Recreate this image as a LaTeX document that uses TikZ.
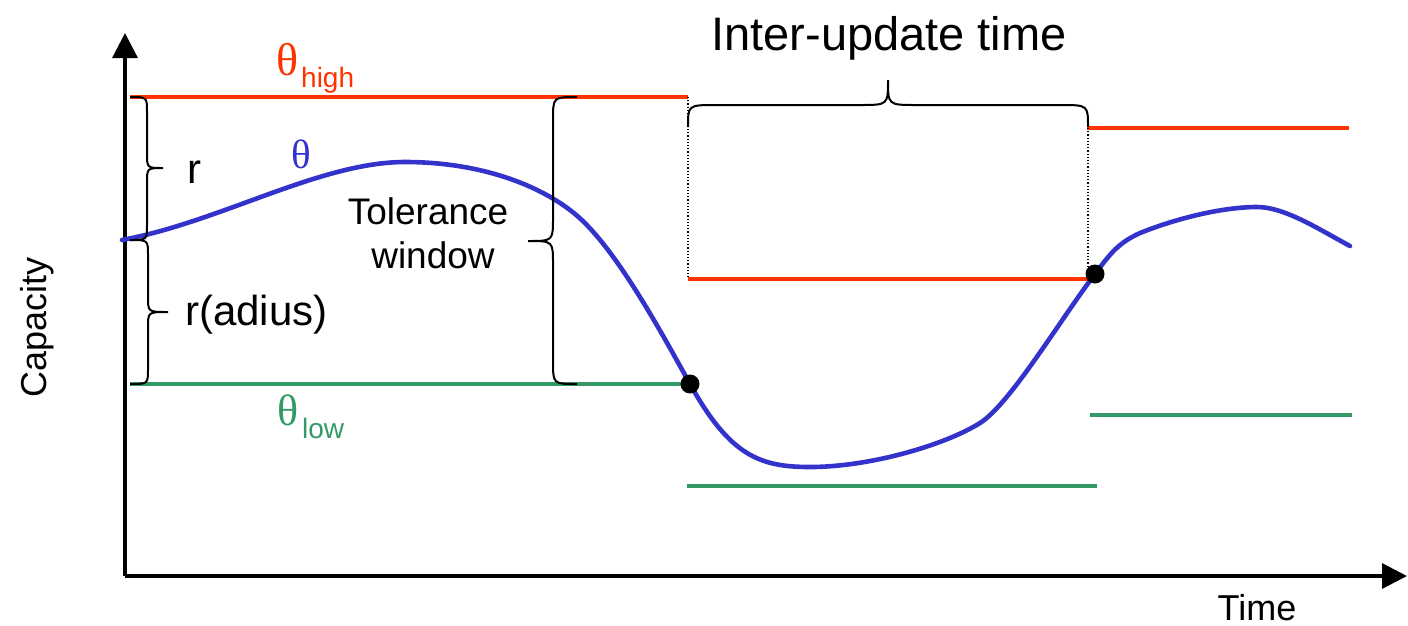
\documentclass[tikz,border=0pt]{standalone}
\usepackage{fontspec}
\setmainfont{Liberation Sans}
\newfontfamily\thfont{Liberation Serif}
\usetikzlibrary{arrows.meta}
\definecolor{thred}{HTML}{FF3300}
\definecolor{thblue}{HTML}{3333CC}
\definecolor{thgreen}{HTML}{339966}
\tikzset{
  axisline/.style={line width=3.2pt,-{Triangle[length=25pt,width=25pt]}},
  hiline/.style={thred,line width=3.8pt},
  loline/.style={thgreen,line width=3.8pt},
  curveline/.style={thblue,line width=4.6pt,line cap=round,line join=round},
  bracel/.style={black,line width=2pt},
  dotline/.style={black,line width=1.2pt,dotted},
  lbl/.style={inner sep=0pt,anchor=base west,font=\fontsize{37}{40}\selectfont},
  dotmark/.style={circle,fill=black,inner sep=0pt,minimum size=19pt},
}
\begin{document}
\begin{tikzpicture}[x=1pt,y=-1pt]
\useasboundingbox (0,0) rectangle (1408,625);
% axes
\coordinate (O) at (125,576);
\coordinate (ytip) at (125,33);
\coordinate (xtip) at (1407,576);
\draw[axisline] (O) -- (ytip);
\draw[axisline] (O) -- (xtip);
% thresholds
\draw[hiline] (130,97) -- (688,97);
\draw[hiline] (688,279) -- (1095,279);
\draw[hiline] (1087,128) -- (1349,128);
\draw[loline] (130,384) -- (690,384);
\draw[loline] (687,486) -- (1097,486);
\draw[loline] (1090,415) -- (1352,415);
% dotted
\draw[dotline] (688,97) -- (688,279);
\draw[dotline] (1088,128) -- (1088,274);
% curve
\draw[curveline] (122,240) .. controls (220,222) and (320,162) .. (405,162)
  .. controls (480,162) and (540,185) .. (575,214)
  .. controls (615,247) and (660,330) .. (690,384)
  .. controls (730,456) and (760,467) .. (810,467)
  .. controls (870,467) and (945,445) .. (980,423)
  .. controls (1010,404) and (1060,320) .. (1095,274)
  .. controls (1110,254) and (1118,243) .. (1140,233)
  .. controls (1180,217) and (1225,207) .. (1257,207)
  .. controls (1285,207) and (1320,230) .. (1350,246);
\node[dotmark] (d1) at (690,384) {};
\node[dotmark] (d2) at (1095,274) {};
% braces
\draw[bracel] (130,97) .. controls (147,97) .. (147,112) -- (147,153) .. controls (147,168) .. (163,168) .. controls (147,168) .. (147,183) -- (147,225) .. controls (147,240) .. (130,240);
\draw[bracel] (130,240) .. controls (148,240) .. (148,255) -- (148,297) .. controls (148,312) .. (168,312) .. controls (148,312) .. (148,327) -- (148,369) .. controls (148,384) .. (130,384);
\draw[bracel] (577,97) .. controls (553,97) .. (553,120) -- (553,218) .. controls (553,241) .. (528,241) .. controls (553,241) .. (553,264) -- (553,361) .. controls (553,384) .. (577,384);
\draw[bracel] (688,127) .. controls (688,105) .. (716,105) -- (860,105) .. controls (888,105) .. (888,80) .. controls (888,105) .. (916,105) -- (1060,105) .. controls (1088,105) .. (1088,127);
% labels
\node[lbl,thred,font=\thfont\fontsize{46}{46}\selectfont] (thh) at (276,75) {θ};
\node[lbl,thred,font=\fontsize{28}{30}\selectfont] (thhs) at (301,87) {high};
\node[lbl,thgreen,font=\thfont\fontsize{44}{44}\selectfont] (thl) at (277,425) {θ};
\node[lbl,thgreen,font=\fontsize{28}{30}\selectfont] (thls) at (302,438) {low};
\node[lbl,thblue,font=\thfont\fontsize{41}{41}\selectfont] (th) at (291,168) {θ};
\node[lbl,font=\fontsize{42}{44}\selectfont] (r) at (187,183) {r};
\node[lbl,font=\fontsize{42}{44}\selectfont] (rad) at (185,325) {r(adius)};
\node[inner sep=0pt,anchor=base,font=\fontsize{37}{40}\selectfont] (tol) at (428,224) {Tolerance};
\node[inner sep=0pt,anchor=base,font=\fontsize{37}{40}\selectfont] (win) at (433,268) {window};
\node[inner sep=0pt,anchor=base,font=\fontsize{47}{50}\selectfont] (iut) at (889,50) {Inter-update time};
\node[inner sep=0pt,anchor=base,font=\fontsize{36}{40}\selectfont] (time) at (1257,620) {Time};
\node[inner sep=0pt,anchor=base,rotate=90,font=\fontsize{36}{40}\selectfont] (cap) at (46,327) {Capacity};
\end{tikzpicture}
\end{document}
